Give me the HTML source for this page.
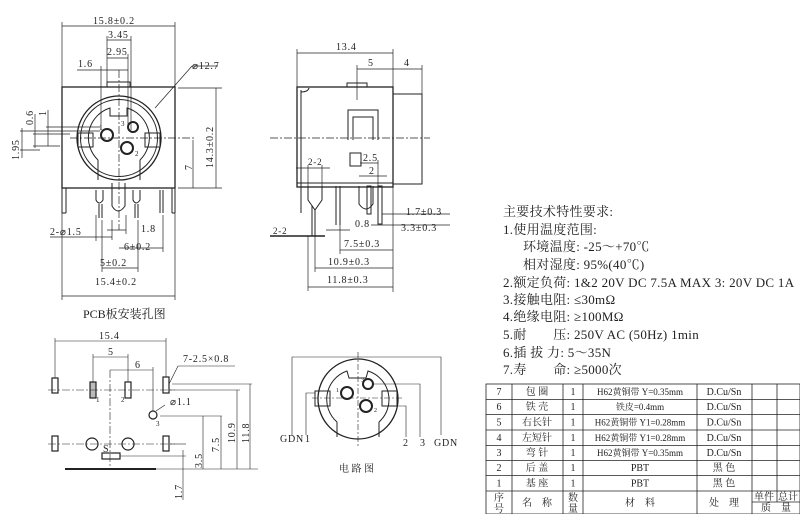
<!DOCTYPE html>
<html><head><meta charset="utf-8"><style>
html,body{margin:0;padding:0;background:#fff;}
svg{display:block}
text{font-family:"Liberation Serif","Noto Serif CJK SC",serif;fill:#222;stroke:none;}
.d{letter-spacing:0.8px;}
</style></head><body>
<svg width="800" height="514" viewBox="0 0 800 514" xmlns="http://www.w3.org/2000/svg" stroke="#222" fill="none" stroke-width="1">
<!-- ===== FRONT VIEW ===== -->
<g>
<rect x="62" y="87" width="113" height="101" stroke-width="1.3"/>
<rect x="107" y="82" width="23" height="5"/>
<circle cx="119" cy="138" r="42" stroke-width="1.3"/>
<circle cx="119" cy="138" r="38.5"/>
<path d="M98 160 A31 31 0 0 1 110 108 L110 116 L127 116 L127 108 A31 31 0 0 1 140 160" />
<rect x="78" y="133" width="15" height="14"/>
<rect x="145" y="133" width="15" height="14"/>
<line x1="98" y1="160" x2="98" y2="180"/><line x1="140" y1="160" x2="140" y2="180"/>
<circle cx="107" cy="135" r="6" stroke-width="2"/><circle cx="133" cy="127" r="5" stroke-width="2"/><circle cx="127" cy="148" r="6" stroke-width="2"/>
<text x="99" y="130" font-size="7">1</text><text x="121" y="126" font-size="7">3</text><text x="135" y="156" font-size="7">2</text>
<line x1="62" y1="188" x2="62" y2="213"/><line x1="66" y1="188" x2="66" y2="213"/><line x1="62" y1="213" x2="66" y2="213"/>
<line x1="172" y1="188" x2="172" y2="213"/><line x1="175" y1="188" x2="175" y2="213"/><line x1="172" y1="213" x2="175" y2="213"/>
<path d="M96 190 L96 200 Q99 206 103 200 L103 190"/><line x1="99" y1="204" x2="99" y2="218"/><line x1="102" y1="204" x2="102" y2="218"/>
<path d="M112 183 L112 206 Q118 216 125 206 L125 183"/>
<path d="M133 190 L133 200 Q136 206 140 200 L140 190"/><line x1="135" y1="204" x2="135" y2="218"/><line x1="138" y1="204" x2="138" y2="218"/>
<line x1="160" y1="190" x2="160" y2="213"/><line x1="163" y1="190" x2="163" y2="213"/>
<g stroke-dasharray="8 2 2 2" stroke-width="0.7"><line x1="70" y1="138" x2="195" y2="138"/><line x1="119" y1="70" x2="119" y2="230"/></g>
<g stroke-width="0.7">
<line x1="62" y1="26" x2="175" y2="26"/><line x1="62" y1="22" x2="62" y2="87"/><line x1="175" y1="22" x2="175" y2="87"/>
<line x1="107" y1="40" x2="131" y2="40"/><line x1="107" y1="36" x2="107" y2="82"/><line x1="131" y1="36" x2="131" y2="130"/>
<line x1="107" y1="58" x2="128" y2="58"/><line x1="128" y1="54" x2="128" y2="125"/>
<line x1="77" y1="70" x2="128" y2="70"/><line x1="101" y1="66" x2="101" y2="130"/>
<line x1="216" y1="88" x2="216" y2="188"/><line x1="178" y1="88" x2="222" y2="88"/><line x1="178" y1="188" x2="222" y2="188"/>
<line x1="193" y1="140" x2="193" y2="188"/>
<line x1="155" y1="108" x2="192" y2="66"/><line x1="192" y1="66" x2="218" y2="66"/>
<line x1="22" y1="128" x2="22" y2="158"/><line x1="35" y1="114" x2="35" y2="148"/><line x1="48" y1="110" x2="48" y2="146"/>
<line x1="20" y1="131" x2="100" y2="131"/><line x1="20" y1="150" x2="40" y2="150"/><line x1="33" y1="146" x2="60" y2="146"/><line x1="46" y1="127" x2="100" y2="127"/><line x1="33" y1="134" x2="70" y2="134"/>
<line x1="62" y1="296" x2="175" y2="296"/><line x1="62" y1="213" x2="62" y2="300"/><line x1="175" y1="213" x2="175" y2="300"/>
<line x1="102" y1="268" x2="138" y2="268"/><line x1="102" y1="220" x2="102" y2="272"/><line x1="138" y1="220" x2="138" y2="272"/>
<line x1="119" y1="248" x2="163" y2="248"/><line x1="163" y1="215" x2="163" y2="252"/>
<line x1="107" y1="230" x2="126" y2="230"/><line x1="126" y1="215" x2="126" y2="234"/>
<line x1="90" y1="237" x2="112" y2="237"/><line x1="112" y1="220" x2="112" y2="240"/><line x1="96" y1="215" x2="96" y2="241"/>
<line x1="50" y1="237" x2="90" y2="237"/>
</g>
<g class="d" font-size="10">
<text x="93" y="24">15.8±0.2</text>
<text x="108" y="38">3.45</text><text x="107" y="55">2.95</text>
<text x="78" y="67">1.6</text><text x="192" y="69">⌀12.7</text>
<text x="141" y="232">1.8</text><text x="124" y="250">6±0.2</text>
<text x="100" y="266">5±0.2</text><text x="95" y="285">15.4±0.2</text>
<text x="50" y="235">2-⌀1.5</text>
<text transform="translate(192,170) rotate(-90)">7</text>
<text transform="translate(213,168) rotate(-90)">14.3±0.2</text>
<text transform="translate(19,160) rotate(-90)">1.95</text>
<text transform="translate(33,125) rotate(-90)">0.6</text>
<text transform="translate(46,116) rotate(-90)">1</text>
</g>
</g>
<!-- ===== SIDE VIEW ===== -->
<g>
<rect x="297" y="87" width="96" height="100" stroke-width="1.3"/>
<rect x="393" y="94" width="29" height="90"/>
<rect x="347" y="83" width="20" height="4"/>
<line x1="301" y1="90" x2="301" y2="213"/><path d="M301 92 Q308 92 309 88"/>
<path d="M348 140 L348 110 L378 110 L378 140 M353 140 L353 117 L373 117 L373 140"/>
<rect x="350" y="153" width="11" height="13"/>
<path d="M308 186 L308 200 L315 210 L322 200 L322 186"/><line x1="315" y1="210" x2="315" y2="236"/><line x1="312" y1="206" x2="312" y2="236"/>
<line x1="336" y1="186" x2="336" y2="225"/><line x1="340" y1="186" x2="340" y2="225"/>
<path d="M359 186 L359 204 Q366 214 373 204 L373 186"/><rect x="367" y="186" width="4" height="28"/><rect x="378" y="186" width="4" height="38"/>
<line x1="297" y1="183" x2="393" y2="183"/>
<line x1="270" y1="138" x2="430" y2="138" stroke-dasharray="8 2 2 2" stroke-width="0.7"/>
<g stroke-width="0.7">
<line x1="297" y1="53" x2="393" y2="53"/><line x1="297" y1="49" x2="297" y2="87"/><line x1="393" y1="49" x2="393" y2="94"/>
<line x1="357" y1="69" x2="422" y2="69"/><line x1="357" y1="65" x2="357" y2="100"/><line x1="422" y1="65" x2="422" y2="94"/>
<line x1="296" y1="168" x2="330" y2="168"/><line x1="308" y1="165" x2="308" y2="186"/><line x1="322" y1="165" x2="322" y2="186"/>
<line x1="360" y1="163" x2="378" y2="163"/><line x1="359" y1="176" x2="387" y2="176"/><line x1="378" y1="160" x2="378" y2="186"/>
<line x1="270" y1="236" x2="325" y2="236" stroke-width="1.4"/>
<line x1="382" y1="214" x2="450" y2="214"/><line x1="371" y1="225" x2="450" y2="225"/>
<line x1="326" y1="230" x2="350" y2="230"/>
<line x1="340" y1="250" x2="393" y2="250"/><line x1="340" y1="225" x2="340" y2="254"/><line x1="393" y1="187" x2="393" y2="292"/>
<line x1="315" y1="268" x2="393" y2="268"/><line x1="315" y1="236" x2="315" y2="272"/>
<line x1="308" y1="287" x2="393" y2="287"/><line x1="308" y1="236" x2="308" y2="291"/>
</g>
<g class="d" font-size="10">
<text x="336" y="50">13.4</text><text x="368" y="66">5</text><text x="404" y="66">4</text>
<text x="308" y="165" font-size="9">2-2</text><text x="363" y="161">2.5</text><text x="369" y="174">2</text>
<text x="406" y="215">1.7±0.3</text><text x="401" y="231">3.3±0.3</text>
<text x="355" y="227">0.8</text><text x="273" y="234" font-size="9">2-2</text>
<text x="344" y="247">7.5±0.3</text><text x="328" y="265">10.9±0.3</text><text x="327" y="283">11.8±0.3</text>
</g>
</g>
<!-- ===== PCB ===== -->
<g>
<text x="83" y="318" font-size="12">PCB板安装孔图</text>
<g stroke-width="1.2">
<rect x="52" y="378" width="6" height="15"/><rect x="90" y="382" width="6" height="16" fill="#bbb"/><rect x="125" y="382" width="6" height="16"/><rect x="163" y="377" width="6" height="16"/>
<rect x="52" y="436" width="6" height="15"/><circle cx="92" cy="444" r="6"/><circle cx="128" cy="444" r="6"/><rect x="163" y="436" width="6" height="15"/>
<circle cx="153" cy="415" r="4"/><rect x="102" y="453" width="18" height="6"/>
</g>
<line x1="65" y1="469" x2="156" y2="469" stroke-width="2"/>
<g stroke-dasharray="8 2 2 2" stroke-width="0.6"><line x1="48" y1="390" x2="175" y2="390"/><line x1="48" y1="444" x2="175" y2="444"/><line x1="110" y1="370" x2="110" y2="470"/></g>
<g stroke-width="0.6">
<line x1="55" y1="341" x2="166" y2="341"/><line x1="55" y1="338" x2="55" y2="378"/><line x1="166" y1="338" x2="166" y2="377"/>
<line x1="93" y1="357" x2="128" y2="357"/><line x1="93" y1="354" x2="93" y2="382"/><line x1="128" y1="354" x2="128" y2="382"/>
<line x1="110" y1="370" x2="153" y2="370"/><line x1="153" y1="367" x2="153" y2="411"/>
<line x1="169" y1="384" x2="178" y2="366"/><line x1="178" y1="366" x2="235" y2="366"/>
<line x1="156" y1="411" x2="165" y2="405"/>
<line x1="160" y1="416" x2="222" y2="416"/><line x1="169" y1="390" x2="240" y2="390"/><line x1="172" y1="384" x2="252" y2="384"/>
<line x1="170" y1="444" x2="186" y2="444"/><line x1="120" y1="456" x2="186" y2="456"/>
<line x1="156" y1="469" x2="258" y2="469"/>
<line x1="183" y1="450" x2="183" y2="500"/><line x1="221" y1="416" x2="221" y2="469"/><line x1="237" y1="390" x2="237" y2="469"/><line x1="250" y1="384" x2="250" y2="469"/>
<line x1="203" y1="416" x2="203" y2="469"/>
</g>
<g class="d" font-size="10">
<text x="99" y="339">15.4</text><text x="108" y="355">5</text><text x="135" y="368">6</text>
<text x="183" y="362">7-2.5×0.8</text><text x="170" y="405">⌀1.1</text>
<text x="103" y="452">S</text>
<text transform="translate(202,468) rotate(-90)">3.5</text>
<text transform="translate(219,452) rotate(-90)">7.5</text>
<text transform="translate(235,443) rotate(-90)">10.9</text>
<text transform="translate(249,443) rotate(-90)">11.8</text>
<text transform="translate(182,499) rotate(-90)">1.7</text>
</g>
<text x="96" y="402" font-size="7">1</text><text x="121" y="402" font-size="7">2</text><text x="156" y="426" font-size="7">3</text>
</g>
<!-- ===== CIRCUIT ===== -->
<g>
<circle cx="358" cy="399" r="40" stroke-width="1.3"/>
<path d="M337 422 A30 30 0 0 1 347 371 L349 378 L366 378 L368 371 A30 30 0 0 1 379 422"/>
<line x1="337" y1="422" x2="337" y2="437"/><line x1="379" y1="422" x2="379" y2="437"/>
<rect x="315" y="391" width="15" height="15"/><rect x="382" y="391" width="15" height="15"/>
<circle cx="347" cy="393" r="6" stroke-width="2"/><circle cx="368" cy="384" r="5" stroke-width="2"/><circle cx="366" cy="406" r="6" stroke-width="2"/>
<g stroke-width="0.6">
<line x1="358" y1="352" x2="358" y2="448" stroke-dasharray="6 2 2 2"/><line x1="312" y1="398" x2="402" y2="398" stroke-dasharray="6 2 2 2"/>
<polyline points="292,435 292,357 441,357 441,435"/>
<polyline points="306,435 306,393 315,393"/>
<polyline points="373,384 420,384 420,437"/><polyline points="396,406 406,406 406,437"/>
</g>
<g class="d" font-size="10">
<text x="280" y="442">GDN</text><text x="305" y="442">1</text>
<text x="403" y="446">2</text><text x="420" y="446">3</text><text x="434" y="446">GDN</text>
</g>
<text x="339" y="472" font-size="10">电 路 图</text>
<text x="336" y="392" font-size="6">1</text><text x="361" y="382" font-size="6">3</text><text x="374" y="412" font-size="6">2</text>
</g>
<!-- ===== SPECS ===== -->
<g font-size="13" style="letter-spacing:0.3px">
<text x="503" y="216">主要技术特性要求:</text>
<text x="503" y="234">1.使用温度范围:</text>
<text x="523" y="251">环境温度: -25～+70℃</text>
<text x="523" y="269">相对湿度: 95%(40℃)</text>
<text x="503" y="287">2.额定负荷: 1&amp;2 20V DC 7.5A MAX 3: 20V DC 1A</text>
<text x="503" y="304">3.接触电阻: ≤30mΩ</text>
<text x="503" y="321">4.绝缘电阻: ≥100MΩ</text>
<text x="503" y="339">5.耐　　压: 250V AC (50Hz) 1min</text>
<text x="503" y="357">6.插 拔 力: 5～35N</text>
<text x="503" y="374">7.寿　　命: ≥5000次</text>
</g>
<!-- ===== TABLE ===== -->
<g stroke-width="0.8">
<rect x="486" y="384" width="314" height="130"/>
<line x1="486" y1="399.5" x2="800" y2="399.5"/><line x1="486" y1="414.5" x2="800" y2="414.5"/><line x1="486" y1="430" x2="800" y2="430"/>
<line x1="486" y1="445.5" x2="800" y2="445.5"/><line x1="486" y1="460.5" x2="800" y2="460.5"/><line x1="486" y1="475.5" x2="800" y2="475.5"/><line x1="486" y1="491" x2="800" y2="491"/>
<line x1="512" y1="384" x2="512" y2="514"/><line x1="563" y1="384" x2="563" y2="514"/><line x1="583" y1="384" x2="583" y2="514"/>
<line x1="697" y1="384" x2="697" y2="514"/><line x1="752" y1="384" x2="752" y2="514"/><line x1="777" y1="384" x2="777" y2="502"/>
<line x1="752" y1="502" x2="800" y2="502"/>
</g>
<g font-size="10" text-anchor="middle">
<text x="499" y="395">7</text><text x="537" y="395">包 圈</text><text x="573" y="395">1</text><text x="640" y="395" font-size="9">H62黄铜带 Y=0.35mm</text><text x="724" y="395">D.Cu/Sn</text>
<text x="499" y="410">6</text><text x="537" y="410">铁 壳</text><text x="573" y="410">1</text><text x="640" y="410" font-size="9">铁皮=0.4mm</text><text x="724" y="410">D.Cu/Sn</text>
<text x="499" y="425.5">5</text><text x="537" y="425.5">右长针</text><text x="573" y="425.5">1</text><text x="640" y="425.5" font-size="9">H62黄铜带 Y1=0.28mm</text><text x="724" y="425.5">D.Cu/Sn</text>
<text x="499" y="441">4</text><text x="537" y="441">左短针</text><text x="573" y="441">1</text><text x="640" y="441" font-size="9">H62黄铜带 Y1=0.28mm</text><text x="724" y="441">D.Cu/Sn</text>
<text x="499" y="456">3</text><text x="537" y="456">弯 针</text><text x="573" y="456">1</text><text x="640" y="456" font-size="9">H62黄铜带 Y=0.35mm</text><text x="724" y="456">D.Cu/Sn</text>
<text x="499" y="471">2</text><text x="537" y="471">后 盖</text><text x="573" y="471">1</text><text x="640" y="471">PBT</text><text x="724" y="471">黑 色</text>
<text x="499" y="486.5">1</text><text x="537" y="486.5">基 座</text><text x="573" y="486.5">1</text><text x="640" y="486.5">PBT</text><text x="724" y="486.5">黑 色</text>
</g>
<g font-size="10" text-anchor="middle">
<text x="499" y="501">序</text><text x="499" y="512">号</text>
<text x="537" y="506">名　称</text>
<text x="573" y="501">数</text><text x="573" y="512">量</text>
<text x="640" y="506">材　料</text>
<text x="724" y="506">处　理</text>
<text x="764" y="500">单件</text><text x="788" y="500">总计</text>
<text x="776" y="511">质　量</text>
</g>
</svg>
</body></html>
